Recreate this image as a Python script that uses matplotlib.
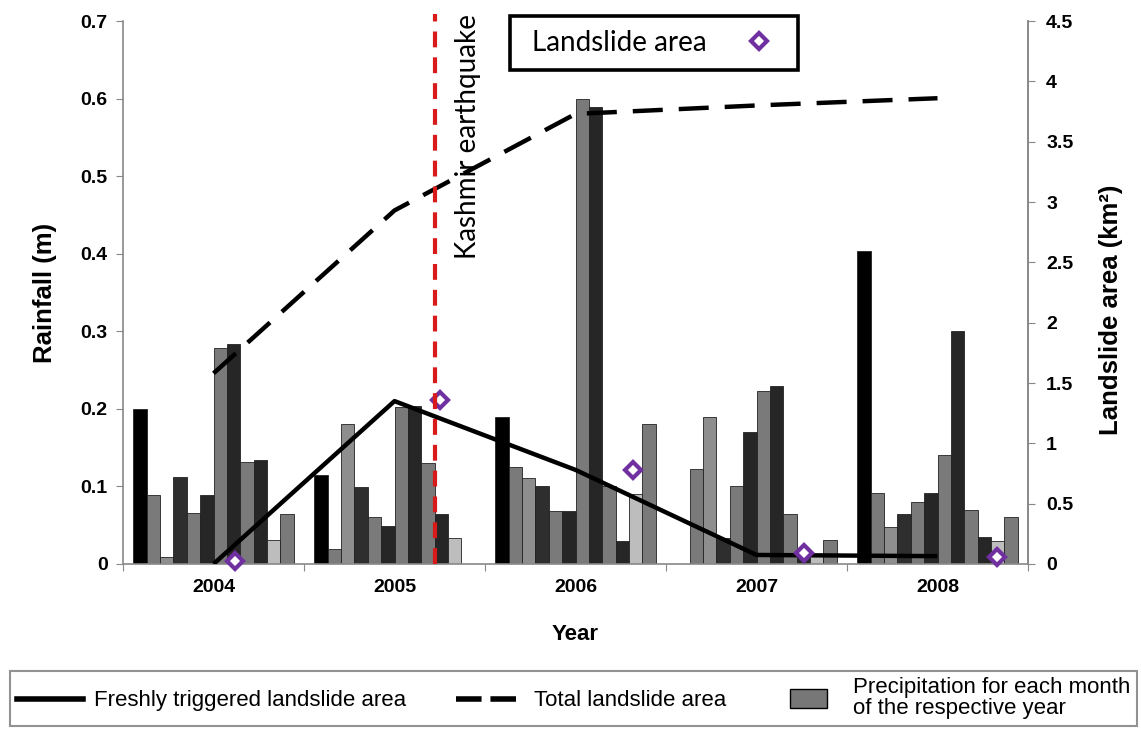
import numpy as np
import matplotlib
matplotlib.use("Agg")
import matplotlib.pyplot as plt
import matplotlib.patches as mpatches
from matplotlib.lines import Line2D
from matplotlib.legend_handler import HandlerPatch

plt.rcParams['font.family'] = ['Liberation Sans', 'DejaVu Sans']

# データ
years = ["2004", "2005", "2006", "2007", "2008"]

# monthly rainfall (m), Jan..Dec
rain_2004 = [0.200, 0.089, 0.009, 0.112, 0.066, 0.089, 0.278, 0.283, 0.131, 0.134, 0.031, 0.065]
rain_2005 = [0.115, 0.019, 0.181, 0.099, 0.060, 0.049, 0.202, 0.204, 0.130, 0.065, 0.034, 0.0]
rain_2006 = [0.190, 0.125, 0.111, 0.100, 0.068, 0.068, 0.599, 0.589, 0.100, 0.030, 0.090, 0.181]
rain_2007 = [0.0, 0.122, 0.190, 0.033, 0.100, 0.170, 0.223, 0.230, 0.065, 0.014, 0.010, 0.031]
rain_2008 = [0.404, 0.092, 0.048, 0.064, 0.080, 0.091, 0.140, 0.300, 0.069, 0.035, 0.030, 0.061]

# landslide area (km2)
fresh_area = [0.0, 1.35, 0.78, 0.075, 0.065]
total_area = [1.58, 2.93, 3.73, 3.80, 3.86]

# single landslide area points (x in year units)
point_x = [0.12, 1.25, 2.32, 3.26, 4.33]
point_area = [0.025, 1.36, 0.78, 0.09, 0.055]

quake_x = 1.224

rain = np.array([rain_2004, rain_2005, rain_2006, rain_2007, rain_2008])

month_colors = ['#000000', '#7a7a7a', '#8e8e8e', '#2e2e2e', '#7a7a7a', '#262626',
                '#7a7a7a', '#262626', '#7a7a7a', '#262626', '#bdbdbd', '#7a7a7a']

W, H = 1141, 731
fig = plt.figure(figsize=(W / 100, H / 100), dpi=100)
ax = fig.add_axes([123 / W, 1 - 564 / H, 905 / W, 543 / H])

bw = 0.074
xpos = np.arange(len(years))
for m in range(12):
    off = -0.444 + bw * (m + 0.5)
    ax.bar(xpos + off, rain[:, m], bw, color=month_colors[m],
           edgecolor='#222222', linewidth=0.6)

ax.set_xlim(-0.5, 4.5)
ax.set_ylim(0, 0.7)
ax.set_yticks(np.arange(0, 0.71, 0.1))
ax.set_yticklabels(['0', '0.1', '0.2', '0.3', '0.4', '0.5', '0.6', '0.7'])
ax.set_xticks(np.arange(-0.5, 4.6, 1))
ax.set_xticklabels([])
ax.set_xticks(xpos, minor=True)
ax.set_xticklabels(years, minor=True)
ax.tick_params(axis='x', which='minor', length=0, pad=11)
ax.tick_params(axis='x', which='major', length=5, color='#888888')
ax.tick_params(axis='y', length=5, color='#888888', pad=6)
for lab in ax.get_xticklabels(minor=True) + ax.get_yticklabels():
    lab.set_fontweight('bold')
    lab.set_fontsize(14)
ax.spines['top'].set_visible(False)
for s in ['left', 'bottom', 'right']:
    ax.spines[s].set_color('#888888')
    ax.spines[s].set_linewidth(1.2)
ax.set_xlabel('Year', fontsize=16, fontweight='bold', labelpad=20)
ax.set_ylabel('Rainfall (m)', fontsize=18.5, fontweight='bold', labelpad=17)

ax2 = ax.twinx()
ax2.set_ylim(0, 4.5)
ax2.set_yticks(np.arange(0, 4.51, 0.5))
ax2.set_yticklabels(['0', '0.5', '1', '1.5', '2', '2.5', '3', '3.5', '4', '4.5'])
ax2.tick_params(axis='y', length=5, color='#888888', pad=8)
for lab in ax2.get_yticklabels():
    lab.set_fontweight('bold')
    lab.set_fontsize(14)
for s in ['top', 'left', 'bottom']:
    ax2.spines[s].set_visible(False)
ax2.spines['right'].set_color('#888888')
ax2.spines['right'].set_linewidth(1.2)
ax2.set_ylabel('Landslide area (km²)', fontsize=18.5, fontweight='bold')
ax2.yaxis.set_label_coords(1.079, 0.468)

ax2.plot(xpos, fresh_area, color='black', lw=3.2, solid_capstyle='butt')
ax2.plot(xpos, total_area, color='black', lw=3.2, dashes=(6.75, 3.6))
ax2.plot(point_x, point_area, linestyle='none', marker='D', markersize=8,
         markerfacecolor='white', markeredgecolor='#7030a0', markeredgewidth=3,
         clip_on=False)

ax2.axvline(quake_x, ymin=0, ymax=1.012, color='#d91a1a', lw=3,
            dashes=(3.8, 2.4), clip_on=False)
ax2.text(1.405, 1.012, 'Kashmir earthquake', rotation=90, ha='center', va='top',
         fontsize=20, family='Lato', transform=ax2.get_xaxis_transform())

# top legend box
fig.patches.append(mpatches.Rectangle((510 / W, 1 - 70 / H), 288 / W, 54 / H,
                                      transform=fig.transFigure, facecolor='white',
                                      edgecolor='black', linewidth=2.6, zorder=5))
diamond = Line2D([], [], linestyle='none', marker='D', markersize=8,
                 markerfacecolor='white', markeredgecolor='#7030a0', markeredgewidth=3)
fig.legend(handles=[diamond], labels=['Landslide area'], markerfirst=False,
           loc='center left', bbox_to_anchor=(532 / W, 1 - 43 / H), frameon=False,
           prop={'family': 'Lato', 'size': 20}, handlelength=1.4, handletextpad=1.2,
           borderpad=0, borderaxespad=0)


def narrow_box(legend, orig_handle, xdescent, ydescent, width, height, fontsize):
    return mpatches.Rectangle((width * 0.22 - xdescent, -ydescent - 1), width * 0.56, height + 2)


h_fresh = Line2D([], [], color='black', lw=4)
h_total = Line2D([], [], color='black', lw=4, dashes=(4.6, 1.6))
h_prec = mpatches.Patch(facecolor='#777777', edgecolor='black', linewidth=1)
leg = fig.legend(handles=[h_fresh, h_total, h_prec],
                 labels=['Freshly triggered landslide area', 'Total landslide area',
                         'Precipitation for each month\nof the respective year'],
                 ncol=3, mode='expand', loc='lower left',
                 bbox_to_anchor=(10 / W, 5 / H, 1127 / W, 58 / H),
                 fontsize=16, handlelength=3.0, handletextpad=0.5, borderpad=0.3,
                 borderaxespad=0, fancybox=False, edgecolor='#777777',
                 handler_map={mpatches.Patch: HandlerPatch(patch_func=narrow_box)})
leg.get_frame().set_linewidth(1.5)
for t in leg.get_texts():
    t.set_linespacing(1.0)

plt.savefig('out.png', dpi=100)
